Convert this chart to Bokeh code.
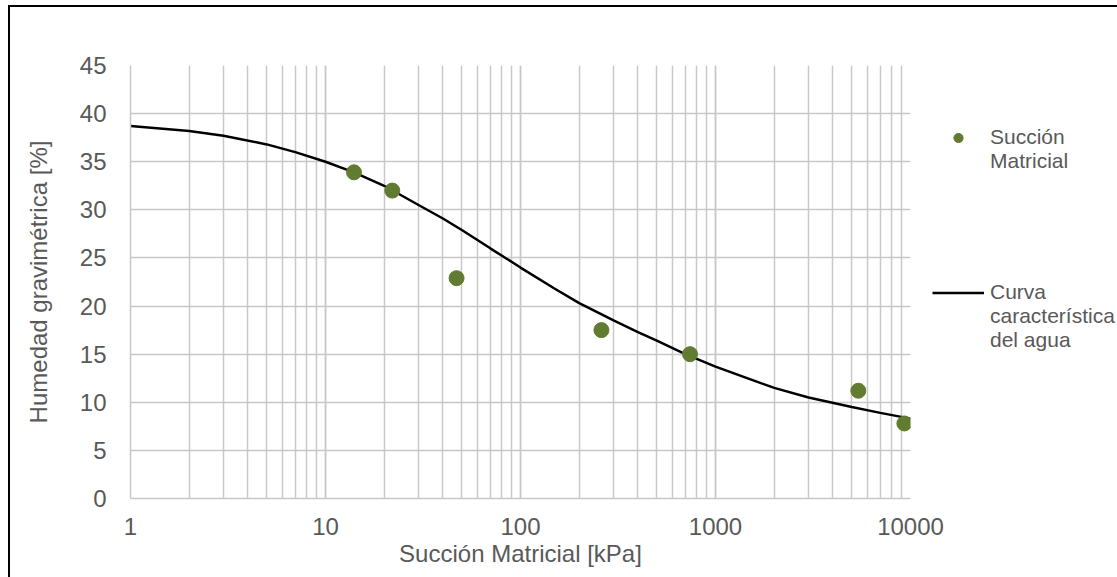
from bokeh.plotting import figure
from bokeh.models import (Legend, LegendItem, SingleIntervalTicker, LogTicker,
                          PrintfTickFormatter, Range1d)
from bokeh.embed import file_html
from bokeh.resources import INLINE

# Measured data (matric suction)
suction_kpa = [14, 22, 47, 260, 740, 5400, 9300]
moisture_pct = [33.9, 32.0, 22.9, 17.5, 15.0, 11.2, 7.8]

# Fitted curve
curve_kpa = [1, 2, 3, 5, 7, 10, 14, 20, 30, 40, 50, 70, 100, 150, 200, 300,
             400, 500, 700, 1000, 1500, 2000, 3000, 5000, 7000, 10000]
curve_pct = [38.7, 38.2, 37.7, 36.8, 36.0, 35.0, 33.9, 32.5, 30.5, 29.1, 27.9,
             26.0, 24.0, 21.8, 20.3, 18.5, 17.3, 16.4, 15.0, 13.7, 12.4, 11.5,
             10.5, 9.5, 8.9, 8.3]

series_labels = ["Succión\nMatricial", "Curva\ncaracterística\ndel agua"]

GRAY = "#595959"
GRID = "#c8c8c8"
FONT = "Liberation Sans"
NBSP = "\u00a0"

p = figure(frame_width=780, frame_height=433, x_axis_type="log",
           x_range=Range1d(1, 10000), y_range=Range1d(0, 45),
           output_backend="svg", toolbar_location=None,
           min_border_left=120, min_border_right=207,
           min_border_top=58, min_border_bottom=79)
p.styles = {"margin-left": "8px", "margin-top": "5px",
            "border-left": "2px solid #000", "border-top": "2px solid #000"}
p.outline_line_color = None

p.xaxis.ticker = LogTicker(num_minor_ticks=10)
p.xaxis.formatter = PrintfTickFormatter(format="%d")
p.yaxis.ticker = SingleIntervalTicker(interval=5)

for ax in (p.xaxis, p.yaxis):
    ax.axis_line_color = GRID
    ax.axis_line_width = 1.5
    ax.major_tick_line_color = None
    ax.minor_tick_line_color = None
    ax.major_tick_out = 0
    ax.major_tick_in = 0
    ax.minor_tick_out = 0
    ax.minor_tick_in = 0
    ax.major_label_text_font = FONT
    ax.major_label_text_font_size = "24px"
    ax.major_label_text_color = GRAY
    ax.axis_label_text_font = FONT
    ax.axis_label_text_font_size = "24px"
    ax.axis_label_text_color = GRAY
    ax.axis_label_text_font_style = "normal"

p.xaxis.axis_label = "Succión Matricial [kPa]"
p.yaxis.axis_label = "Humedad gravimétrica [%]"
p.xaxis.major_label_standoff = 19
p.xaxis.axis_label_standoff = 2
p.yaxis.major_label_standoff = 24
p.yaxis.axis_label_standoff = 25

p.xgrid.grid_line_color = GRID
p.xgrid.grid_line_width = 1.5
p.xgrid.minor_grid_line_color = GRID
p.xgrid.minor_grid_line_width = 1.5
p.ygrid.grid_line_color = GRID
p.ygrid.grid_line_width = 1.5

curve = p.line(curve_kpa, curve_pct, line_color="black", line_width=2.5)
pts = p.scatter(suction_kpa, moisture_pct, size=15, fill_color="#617C30",
                line_color="#617C30")


def centered_first_line(label):
    # pad with blank lines above so that the glyph sits next to the first line
    n = label.count("\n")
    return (NBSP + "\n") * n + label


legend = Legend(items=[
    LegendItem(label=centered_first_line(series_labels[0]), renderers=[pts]),
    LegendItem(label=centered_first_line(series_labels[1]), renderers=[curve]),
], location=(22, 146), label_text_font=FONT, label_text_font_size="21px",
    label_text_color=GRAY, label_text_line_height=1.12,
    glyph_width=52, glyph_height=23, label_height=23,
    label_standoff=6, spacing=59, border_line_color=None,
    background_fill_alpha=0, padding=0, margin=0)
p.add_layout(legend, "right")

open("out.html", "w").write(file_html(p, INLINE))
